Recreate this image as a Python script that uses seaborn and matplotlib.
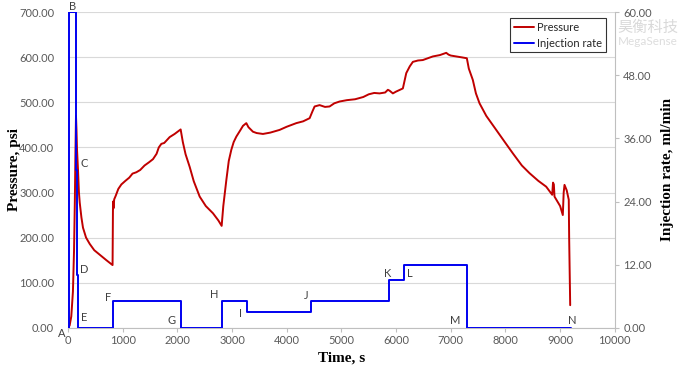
import seaborn as sns
import matplotlib.pyplot as plt
from matplotlib.ticker import FormatStrFormatter, MultipleLocator

# pressure record (s, psi)
time_p = [0, 30, 60, 90, 110, 125, 135, 146, 155, 165, 183, 200, 214, 245, 274, 330, 397, 480,
          580, 700, 815, 823, 832, 845, 870, 920, 976, 1050, 1120, 1180, 1250, 1320, 1400, 1480,
          1554, 1620, 1660, 1707, 1760, 1859, 1950, 2060, 2100, 2150, 2225, 2300, 2408, 2520,
          2651, 2750, 2810, 2840, 2896, 2940, 2987, 3030, 3078, 3150, 3200, 3261, 3300, 3382,
          3450, 3565, 3700, 3870, 4000, 4175, 4300, 4419, 4470, 4510, 4601, 4700, 4784, 4870,
          4967, 5100, 5250, 5400, 5500, 5600, 5698, 5800, 5850, 5881, 5941, 6000, 6124, 6186,
          6250, 6307, 6400, 6489, 6580, 6672, 6800, 6917, 6960, 7000, 7100, 7200, 7294, 7330,
          7403, 7460, 7526, 7650, 7831, 8000, 8135, 8300, 8440, 8600, 8745, 8855, 8870, 8885,
          8897, 9000, 9049, 9065, 9080, 9120, 9158, 9165, 9184]
pressure = [0, 5, 25, 80, 170, 280, 380, 470, 440, 395, 350, 300, 278, 245, 222, 200, 186, 172,
            162, 150, 139, 280, 265, 285, 292, 308, 318, 326, 333, 342, 345, 350, 360, 367,
            374, 386, 400, 408, 410, 423, 430, 440, 412, 385, 357, 325, 291, 270,
            254, 238, 226, 270, 328, 370, 395, 412, 424, 438, 448, 454, 445, 435,
            432, 430, 433, 439, 446, 454, 458, 465, 480, 491, 494, 490, 491, 498,
            502, 505, 507, 512, 518, 521, 520, 522, 528, 526, 520, 524, 531, 565,
            580, 590, 593, 594, 598, 602, 605, 610, 606, 604, 602, 600, 598, 575,
            550, 520, 498, 470, 439, 410, 387, 360, 343, 326, 313, 295, 322, 318,
            291, 270, 250, 300, 317, 305, 284, 200, 50]

# injection schedule (s, ml/min), step values
time_inj = [0, 18, 141, 172, 190, 823, 2058, 2810, 3269, 4442, 5875, 6137, 7288, 9190]
rate = [0, 60, 30, 10, 0, 5, 0, 5, 3, 5, 9, 12, 0, 0]

# point labels
point_names = ['A', 'B', 'C', 'D', 'E', 'F', 'G', 'H', 'I', 'J', 'K', 'L', 'M', 'N']
label_t = [-115, 86, 287, 287, 287, 726, 1895, 2682, 3157, 4363, 5844, 6246, 7087, 9225]
label_p = [-12, 713, 364, 130, 22, 68, 17, 74, 32, 72, 121, 121, 17, 17]

sns.set_style('white')
plt.rcParams['font.family'] = ['Lato', 'DejaVu Sans']
tick_col = '#595959'
axis_font = dict(family='Liberation Serif', weight='bold', size=11, color='black')

fig = plt.figure(figsize=(6.78, 3.69), dpi=100)
ax = fig.add_axes([0.1003, 0.1119, 0.8065, 0.8548])

sns.lineplot(x=time_p, y=pressure, ax=ax, color='#C00000', lw=1.4,
             estimator=None, sort=False, legend=False)
ax.set_xlim(0, 10000)
ax.set_ylim(0, 700)
ax.xaxis.set_major_locator(MultipleLocator(1000))
ax.yaxis.set_major_locator(MultipleLocator(100))
ax.yaxis.set_major_formatter(FormatStrFormatter('%.2f'))
ax.grid(axis='y', color='#D9D9D9', lw=0.8)
ax.grid(axis='x', visible=False)
for s in ['top', 'left', 'right']:
    ax.spines[s].set_visible(False)
ax.spines['bottom'].set_color('#BFBFBF')
ax.tick_params(axis='y', length=0, pad=10, labelsize=8, labelcolor=tick_col)
ax.tick_params(axis='x', length=3, color='#BFBFBF', bottom=True, pad=2, labelsize=8, labelcolor=tick_col)
ax.set_xlabel('Time, s', **axis_font)
ax.set_ylabel('Pressure, psi', **axis_font)
ax.xaxis.set_label_coords(0.5, -0.074)
ax.yaxis.set_label_coords(-0.086, 0.5)

for name, t, p in zip(point_names, label_t, label_p):
    ax.text(t, p, name, fontsize=8, color='#404040', ha='center', va='center', clip_on=False)

ax2 = ax.twinx()
sns.lineplot(x=time_inj, y=rate, ax=ax2, color='#0000F0', lw=1.4, drawstyle='steps-post',
             estimator=None, sort=False, legend=False)
ax2.set_ylim(0, 60)
ax2.yaxis.set_major_locator(MultipleLocator(12))
ax2.yaxis.set_major_formatter(FormatStrFormatter('%.2f'))
for s in ['top', 'left', 'bottom']:
    ax2.spines[s].set_visible(False)
ax2.spines['right'].set_color('#BFBFBF')
ax2.tick_params(axis='y', length=3, color='#BFBFBF', right=True, pad=3, labelsize=8, labelcolor=tick_col)
ax2.set_ylabel('Injection rate, ml/min', **axis_font)
ax2.yaxis.set_label_coords(1.084, 0.5)

handles = [ax.get_lines()[0], ax2.get_lines()[0]]
leg = ax2.legend(handles, ['Pressure', 'Injection rate'], loc='upper right',
                 bbox_to_anchor=(0.983, 0.983), borderaxespad=0, fontsize=8,
                 frameon=True, fancybox=False, handlelength=1.8, handletextpad=0.25,
                 borderpad=0.35, labelspacing=0.45)
leg.get_frame().set_edgecolor('black')
leg.get_frame().set_linewidth(0.8)

# faint watermark
fig.text(0.955, 0.925, '昊衡科技', fontsize=11, color='#D9D9D9', ha='center', va='center',
         family=['Noto Sans CJK SC', 'DejaVu Sans'])
fig.text(0.955, 0.887, 'MegaSense', fontsize=8.5, color='#DDDDDD', ha='center', va='center')

fig.savefig('out.png', dpi=100)
